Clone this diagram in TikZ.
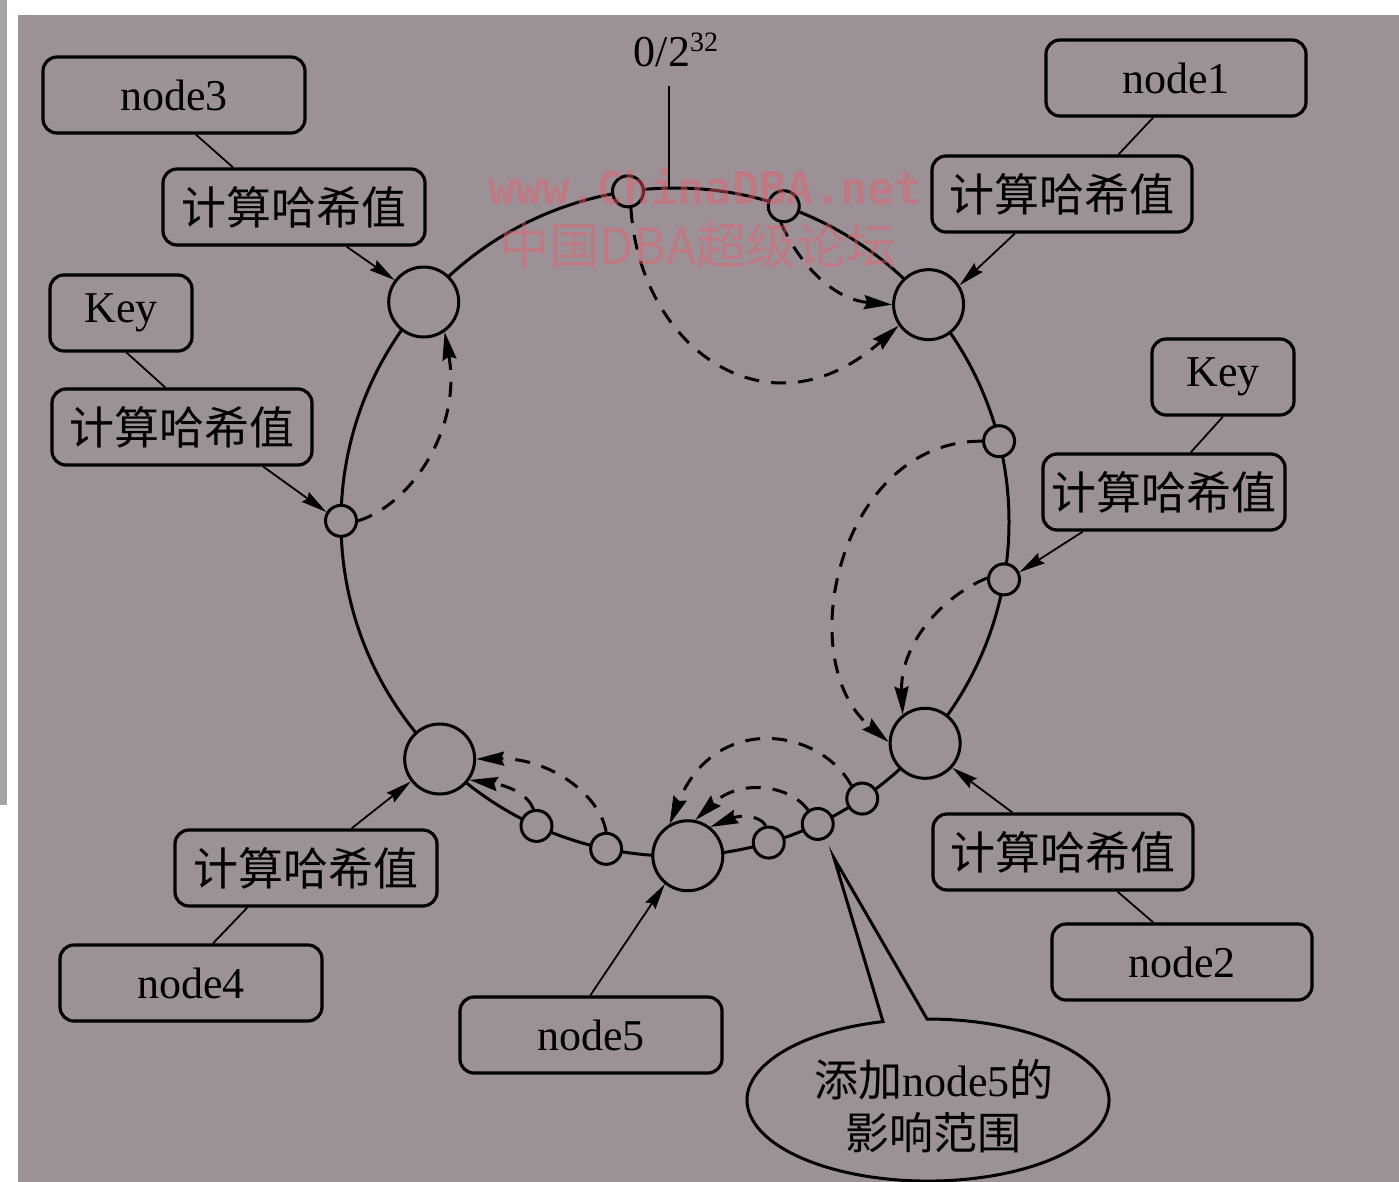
\documentclass[tikz,border=0pt]{standalone}
\usepackage{fontspec}
\setmainfont{Liberation Serif}
\newfontfamily\cjk{Noto Sans CJK SC}
\newfontfamily\wmmono{DejaVu Sans Mono}
\usetikzlibrary{arrows.meta,calc,shapes.geometric}

\definecolor{paper}{RGB}{155,145,150}
\definecolor{edgegray}{RGB}{163,163,168}
\definecolor{wmred}{RGB}{232,96,108}

\begin{document}
\begin{tikzpicture}[x=1pt,y=-1pt,
  every node/.style={inner sep=0pt},
  lbox/.style={draw, line width=3.2pt, rounded corners=14pt, fill=paper,
    minimum height=76pt, font=\fontsize{44}{48}\selectfont},
  hbox/.style={lbox, font=\cjk\fontsize{45}{48}\selectfont},
  bigc/.style={circle, draw, line width=3pt, fill=paper, minimum size=70pt},
  smallc/.style={circle, draw, line width=3pt, fill=paper, minimum size=31pt},
  link/.style={line width=1.8pt},
  feed/.style={line width=1.8pt, -{Stealth[length=26pt,width=12pt,inset=3pt]}},
  hop/.style={line width=3pt, dash pattern=on 15pt off 12pt,
    -{Stealth[length=28pt,width=14pt,inset=3pt]}},
]
% page and paper
\fill[white] (0,0) rectangle (1399,1182);
\fill[edgegray] (0,0) rectangle (7,805);
\fill[paper] (18,15) rectangle (1399,1182);
\useasboundingbox (0,0) rectangle (1399,1182);

% hash ring
\coordinate (C) at (675,522);
\draw[line width=3pt] (C) circle[radius=334pt];

% position marker 0/2^32
\coordinate (tick) at ($(C)+(91:334pt)$);
\coordinate (tickTop) at ($(tick)+(0,-102)$);
\draw[line width=2pt] (tick) -- (tickTop);
\node (zero) at (676,50) {\fontsize{44}{48}\selectfont 0/2\raisebox{15pt}{\fontsize{28}{30}\selectfont 32}};

% points on the ring
\node[smallc] (s0) at ($(C)+(98.1:334pt)$) {};
\node[smallc] (s1) at ($(C)+(71:334pt)$) {};
\node[bigc]   (N1) at ($(C)+(40.6:334pt)$) {};
\node[smallc] (s2) at ($(C)+(14:334pt)$) {};
\node[smallc] (s3) at ($(C)+(-9.9:334pt)$) {};
\node[bigc]   (N2) at ($(C)+(-41.5:334pt)$) {};
\node[smallc] (s4) at ($(C)+(-55.9:334pt)$) {};
\node[smallc] (s5) at ($(C)+(-64.7:334pt)$) {};
\node[smallc] (s6) at ($(C)+(-73.7:334pt)$) {};
\node[bigc]   (N5) at ($(C)+(-87.8:334pt)$) {};
\node[smallc] (s7) at ($(C)+(-101.9:334pt)$) {};
\node[smallc] (s8) at ($(C)+(-114.5:334pt)$) {};
\node[bigc]   (N4) at ($(C)+(-134.8:334pt)$) {};
\node[smallc] (s9) at ($(C)+(179.8:334pt)$) {};
\node[bigc]   (N3) at ($(C)+(138.8:334pt)$) {};

% labels
\node[lbox, minimum width=262pt] (n3) at (174,95) {node3};
\node[hbox, minimum width=262pt] (h3) at (294,207) {计算哈希值};
\node[lbox, minimum width=142pt] (kL) at (121,313) {Key};
\node[hbox, minimum width=260pt] (hL) at (182,427) {计算哈希值};
\node[lbox, minimum width=260pt] (n1) at (1176,78) {node1};
\node[hbox, minimum width=260pt] (h1) at (1062,194) {计算哈希值};
\node[lbox, minimum width=142pt] (kR) at (1223,377) {Key};
\node[hbox, minimum width=242pt] (hR) at (1164,492) {计算哈希值};
\node[hbox, minimum width=260pt] (h2) at (1063,852) {计算哈希值};
\node[lbox, minimum width=260pt] (n2) at (1182,962) {node2};
\node[hbox, minimum width=262pt] (h4) at (306,868) {计算哈希值};
\node[lbox, minimum width=262pt] (n4) at (191,983) {node4};
\node[lbox, minimum width=262pt] (n5) at (591,1035) {node5};

% labels to hash boxes
\draw[link] (n3.-61) -- (h3.147);
\draw[link] (kL.-82) -- (hL.113);
\draw[link] (n1.-120) -- (h1.35);
\draw[link] (kR.-90) -- (hR.56);
\draw[link] (n2.126) -- (h2.-36);
\draw[link] (n4.61) -- (h4.-146);

% hash boxes onto the ring
\draw[feed] (h3.-37) -- (N3.143);
\draw[feed] (hL.-26) -- (s9.149);
\draw[feed] (h1.-140) -- (N1.32);
\draw[feed] (hR.-154) -- (s3.25);
\draw[feed] (h2.142) -- (N2.-42);
\draw[feed] (h4.41) -- (N4.-142);
\draw[feed] (n5.91) -- (N5.-129);

% clockwise hand-over
\draw[hop] (s0.-80) .. controls (640,350) and (770,440) .. (N1.215);
\draw[hop] (s1.-100) .. controls (805,275) and (840,300) .. (N1.180);
\draw[hop] (s9.0) .. controls (410,505) and (462,430) .. (N3.-55);
\draw[hop] (s2.180) .. controls (840,440) and (790,660) .. (N2.178);
\draw[hop] (s3.175) .. controls (935,600) and (900,650) .. (N2.128);
\draw[hop] (s7.90) .. controls (600,795) and (550,758) .. (N4.0);
\draw[hop] (s8.100) .. controls (528,795) and (510,786) .. (N4.-35);
\draw[hop] (s4.130) .. controls (820,728) and (715,712) .. (N5.120);
\draw[hop] (s5.125) .. controls (790,785) and (740,778) .. (N5.78);
\draw[hop] (s6.100) .. controls (760,815) and (740,815) .. (N5.52);

% callout
\coordinate (tip) at (834,858);
\node[ellipse, minimum width=362pt, minimum height=162pt] (e) at (928,1100) {};
\draw[line width=3pt, fill=paper]
  ($(e.center)+(-45pt,78.4pt)$) arc[start angle=104.4, end angle=450.3, x radius=181pt, y radius=81pt]
  -- (tip) -- cycle;
\node[font=\fontsize{44}{48}\selectfont] (et1) at (934,1080) {{\cjk 添加}node5{\cjk 的}};
\node[font=\cjk\fontsize{44}{48}\selectfont] (et2) at (933,1133) {影响范围};

% watermark, printed over the figure
\node[text=wmred, opacity=0.45, font=\wmmono\bfseries\fontsize{45}{48}\selectfont] (wm1) at (705,187) {www.ChinaDBA.net};
\node[text=wmred, opacity=0.45, font=\cjk\fontsize{50}{54}\selectfont] (wm2) at (698,246) {中国DBA超级论坛};
\end{tikzpicture}
\end{document}
